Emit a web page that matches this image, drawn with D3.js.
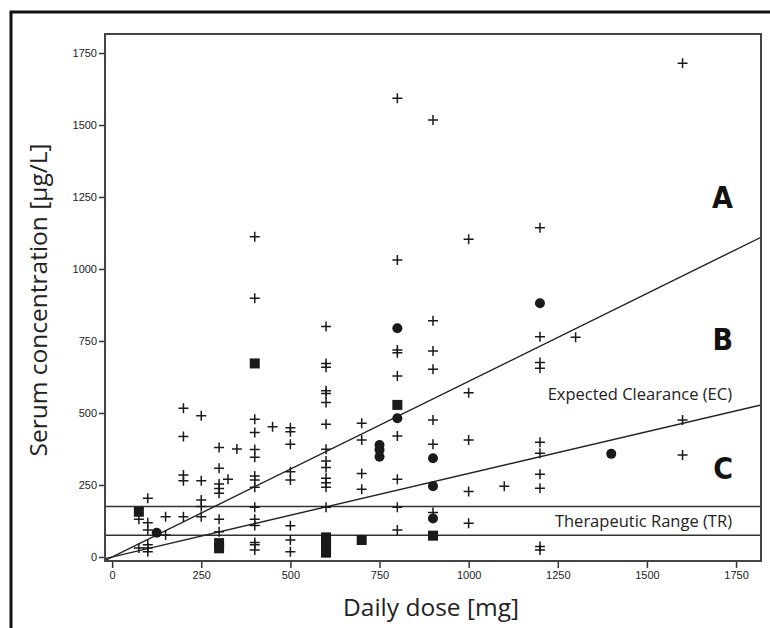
<!DOCTYPE html>
<html lang="en">
  <head>
    <meta charset="UTF-8" />
    <title>Serum concentration vs daily dose</title>
    <style>
      body { margin: 0; background: #fff; }
      svg { display: block; }
    </style>
  </head>
  <body>
    <svg id="chart"></svg>
  </body>
</html>

<script src="https://cdnjs.cloudflare.com/ajax/libs/d3/7.8.5/d3.min.js"></script>

<script>
  // values: [dose mg, concentration µg/L]
  const plusPoints = [
    [1600, 1714], [800, 1593], [900, 1517],
    [400, 1112], [400, 898], [1200, 1143], [1000, 1103], [800, 1031],
    [600, 800], [900, 820], [1200, 765], [1300, 763],
    [800, 719], [800, 709], [900, 715], [900, 652], [800, 628],
    [600, 672], [600, 659], [1200, 675], [1200, 655],
    [600, 577], [600, 568], [1000, 570], [600, 536],
    [200, 516], [200, 418], [250, 490],
    [400, 478], [400, 432], [900, 476], [1600, 476],
    [450, 452], [500, 449], [500, 435], [500, 391],
    [600, 461], [700, 464], [700, 406], [800, 420], [1000, 406], [1200, 398], [900, 391],
    [300, 380], [350, 375], [400, 373], [400, 346], [600, 374], [600, 333], [600, 311],
    [1200, 360], [1600, 354],
    [300, 308], [500, 296], [500, 267], [700, 290], [1200, 287],
    [200, 285], [200, 265], [250, 265], [325, 270], [400, 281], [400, 267],
    [600, 273], [600, 258], [600, 242], [800, 270],
    [300, 253], [300, 238], [300, 221], [400, 242], [700, 235], [1000, 227], [1100, 246], [1200, 239],
    [100, 204], [250, 198], [250, 175], [400, 173], [600, 173], [800, 173], [900, 154],
    [150, 140], [200, 140], [250, 140], [75, 131], [300, 131], [400, 131], [400, 109], [1000, 117],
    [100, 119], [100, 94], [150, 76], [300, 88], [800, 94],
    [500, 108], [500, 59], [500, 18], [400, 50], [400, 42], [400, 24], [1200, 36], [1200, 24],
    [75, 31], [100, 31], [100, 42], [100, 18],
  ];
  const circlePoints = [
    [125, 84], [750, 389], [750, 372], [750, 348], [800, 794], [800, 482],
    [900, 343], [900, 246], [900, 134], [1200, 881], [1400, 358],
  ];
  const squarePoints = [
    [75, 157], [400, 672], [800, 528], [700, 59], [900, 74],
    [300, 30], [300, 48], [600, 15], [600, 35], [600, 55], [600, 68],
  ];

  const xTicks = [0, 250, 500, 750, 1000, 1250, 1500, 1750];
  const yTicks = [0, 250, 500, 750, 1000, 1250, 1500, 1750];

  // slopes of the two clearance lines (µg/L per mg)
  const lineSlopes = [0.61, 0.29];
  // therapeutic range bounds
  const therapeuticRange = [75, 175];

  const regionLabels = ["A", "B", "C"];
</script>

<script>
  const width = 770,
    height = 628,
    plot = { left: 105, top: 34, right: 761, bottom: 561 };

  const svg = d3.select("#chart").attr("width", width).attr("height", height);

  // outer frame of the figure
  svg
    .append("rect")
    .attr("x", 11)
    .attr("y", 12)
    .attr("width", 800)
    .attr("height", 700)
    .attr("fill", "none")
    .attr("stroke", "#111")
    .attr("stroke-width", 3);

  const x = d3.scaleLinear().domain([-20, 1820]).range([plot.left, plot.right]);
  const y = d3.scaleLinear().domain([-14, 1816]).range([plot.bottom, plot.top]);

  svg
    .append("clipPath")
    .attr("id", "clip")
    .append("rect")
    .attr("x", plot.left)
    .attr("y", plot.top)
    .attr("width", plot.right - plot.left)
    .attr("height", plot.bottom - plot.top);

  // axes
  const fmt = d3.format("d");
  const yAxis = d3.axisLeft(y).tickValues(yTicks).tickFormat(fmt).tickSize(6).tickPadding(2);
  const xAxis = d3.axisBottom(x).tickValues(xTicks).tickFormat(fmt).tickSize(7).tickPadding(3);

  const gy = svg
    .append("g")
    .attr("transform", `translate(${plot.left},0)`)
    .call(yAxis);
  const gx = svg
    .append("g")
    .attr("transform", `translate(0,${plot.bottom})`)
    .call(xAxis);

  [gx, gy].forEach((g) => {
    g.select(".domain").remove();
    g.selectAll(".tick line").attr("stroke", "#333").attr("stroke-width", 1.5);
    g.selectAll(".tick text")
      .attr("fill", "#222")
      .style("font-family", "'Liberation Sans', Arial, sans-serif")
      .style("font-size", "11px");
  });

  const inner = svg.append("g").attr("clip-path", "url(#clip)");

  // therapeutic range lines
  inner
    .selectAll("line.tr")
    .data(therapeuticRange)
    .join("line")
    .attr("class", "tr")
    .attr("x1", plot.left)
    .attr("x2", plot.right)
    .attr("y1", (d) => y(d))
    .attr("y2", (d) => y(d))
    .attr("stroke", "#333")
    .attr("stroke-width", 1.5);

  // clearance lines through the origin
  const xd = x.domain();
  inner
    .selectAll("line.cl")
    .data(lineSlopes)
    .join("line")
    .attr("class", "cl")
    .attr("x1", x(xd[0]))
    .attr("y1", (k) => y(k * xd[0]))
    .attr("x2", x(xd[1]))
    .attr("y2", (k) => y(k * xd[1]))
    .attr("stroke", "#222")
    .attr("stroke-width", 1.4);

  // markers
  const crossSize = 5;
  inner
    .append("g")
    .selectAll("path")
    .data(plusPoints)
    .join("path")
    .attr("d", (d) => {
      const cx = x(d[0]),
        cy = y(d[1]);
      return `M${cx - crossSize},${cy}H${cx + crossSize}M${cx},${cy - crossSize}V${cy + crossSize}`;
    })
    .attr("stroke", "#1a1a1a")
    .attr("stroke-width", 1.5)
    .attr("fill", "none");

  inner
    .append("g")
    .selectAll("circle")
    .data(circlePoints)
    .join("circle")
    .attr("cx", (d) => x(d[0]))
    .attr("cy", (d) => y(d[1]))
    .attr("r", 5)
    .attr("fill", "#1a1a1a");

  inner
    .append("g")
    .selectAll("rect")
    .data(squarePoints)
    .join("rect")
    .attr("x", (d) => x(d[0]) - 5)
    .attr("y", (d) => y(d[1]) - 5)
    .attr("width", 10)
    .attr("height", 10)
    .attr("fill", "#1a1a1a");

  // region letters
  svg
    .append("g")
    .selectAll("text")
    .data(regionLabels)
    .join("text")
    .attr("x", 733)
    .attr("y", (d, i) => [208, 350, 479][i])
    .attr("text-anchor", "end")
    .style("font-family", "'DejaVu Sans Condensed', 'Liberation Sans Narrow', sans-serif")
    .style("font-weight", "bold")
    .style("font-size", "30px")
    .attr("fill", "#111")
    .text((d) => d);

  const noteFont = "'Open Sans', 'Noto Sans', sans-serif";
  svg
    .append("text")
    .attr("x", 732)
    .attr("y", 400)
    .attr("text-anchor", "end")
    .style("font-family", noteFont)
    .style("font-size", "16.5px")
    .attr("fill", "#222")
    .text("Expected Clearance (EC)");

  svg
    .append("text")
    .attr("x", 732)
    .attr("y", 527)
    .attr("text-anchor", "end")
    .style("font-family", noteFont)
    .style("font-size", "16.5px")
    .attr("fill", "#222")
    .text("Therapeutic Range (TR)");

  // axis titles
  svg
    .append("text")
    .attr("x", 431)
    .attr("y", 616)
    .attr("text-anchor", "middle")
    .style("font-family", noteFont)
    .style("font-size", "24.5px")
    .attr("fill", "#222")
    .text("Daily dose [mg]");

  svg
    .append("text")
    .attr("transform", "translate(47,300) rotate(-90)")
    .attr("text-anchor", "middle")
    .style("font-family", noteFont)
    .style("font-size", "24.5px")
    .attr("fill", "#222")
    .text("Serum concentration [µg/L]");

  // plot frame drawn last
  svg
    .append("rect")
    .attr("x", plot.left)
    .attr("y", plot.top)
    .attr("width", plot.right - plot.left)
    .attr("height", plot.bottom - plot.top)
    .attr("fill", "none")
    .attr("stroke", "#444")
    .attr("stroke-width", 2);
</script>
